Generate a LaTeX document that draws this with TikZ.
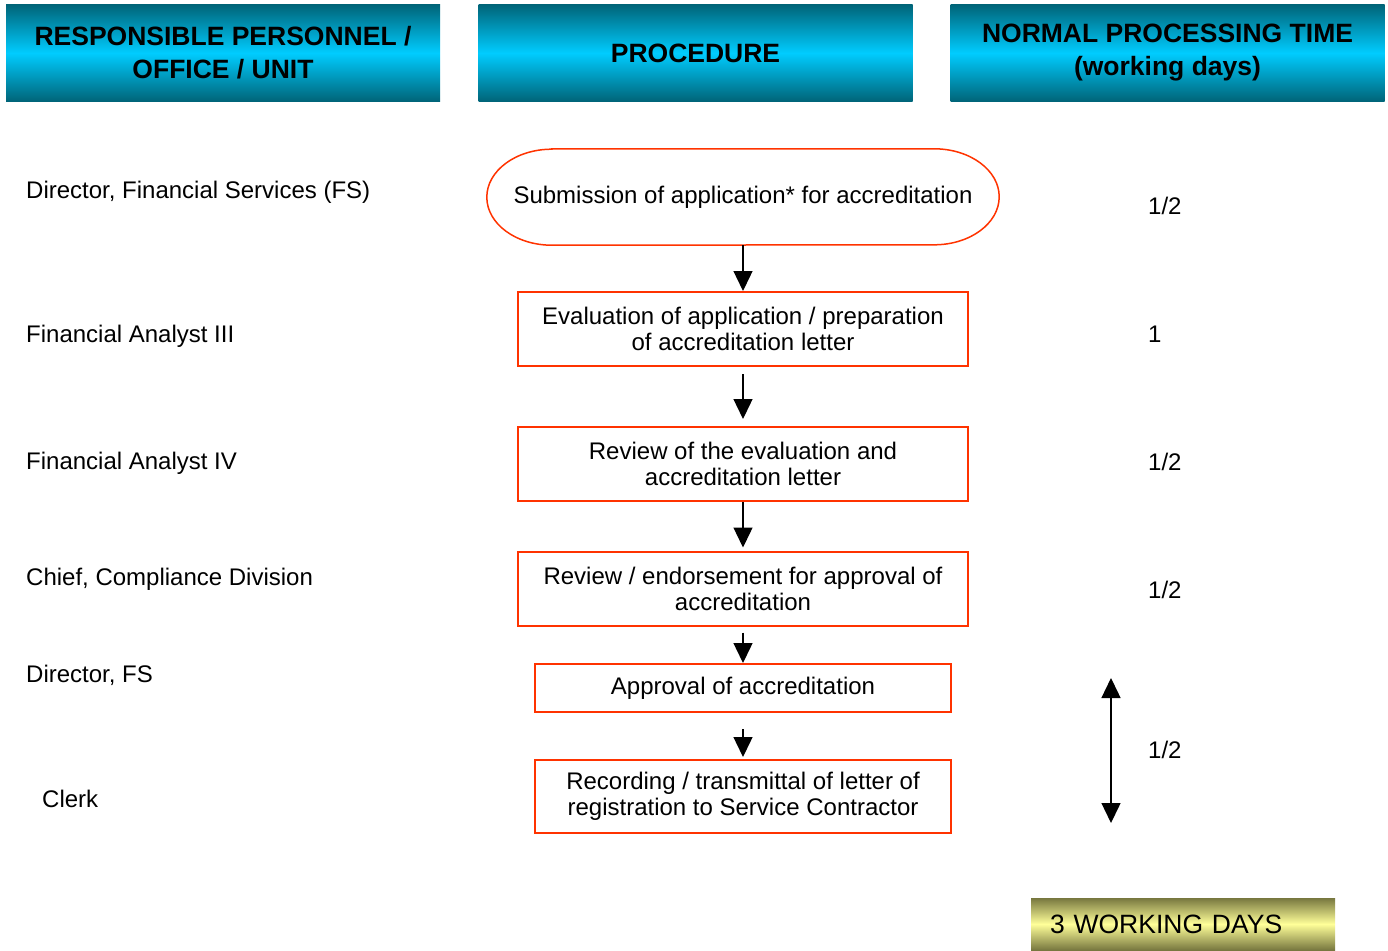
\documentclass[tikz,border=0pt]{standalone}
\usepackage{fontspec}
\setmainfont{Liberation Sans}
\usetikzlibrary{arrows.meta}
\definecolor{boxred}{HTML}{FF3300}
\definecolor{tealdark}{HTML}{006579}
\definecolor{cyanmid}{HTML}{00CCFF}
\definecolor{olivedark}{HTML}{77773F}
\definecolor{yellowmid}{HTML}{FFFF99}
\tikzset{
  hdr/.style={inner sep=0pt, minimum width=434pt, minimum height=96pt, align=center,
    top color=tealdark, bottom color=tealdark, middle color=cyanmid,
    font=\fontsize{26.5}{33}\selectfont\bfseries},
  body/.style={font=\fontsize{24}{26}\selectfont},
  lbl/.style={body, anchor=west, inner sep=0pt},
  stepbox/.style={body, draw=boxred, line width=2pt, align=center, inner sep=0pt,
    minimum width=450pt, minimum height=74pt},
  flow/.style={line width=1.4pt, -{Triangle[width=19pt,length=20pt]}},
}
\begin{document}
\begin{tikzpicture}[x=1pt,y=-1pt]
\useasboundingbox (0,0) rectangle (1388,950);
% headers
\node[hdr] (h1) at (223,53) {RESPONSIBLE PERSONNEL /\\OFFICE / UNIT};
\node[hdr] (h2) at (695.5,53) {PROCEDURE};
\node[hdr] (h3) at (1167.5,53) {NORMAL PROCESSING TIME\\(working days)};
% left labels
\node[lbl] (p1) at (26,192) {Director, Financial Services (FS)};
\node[lbl] (p2) at (26,336) {Financial Analyst III};
\node[lbl] (p3) at (26,463) {Financial Analyst IV};
\node[lbl] (p4) at (26,579) {Chief, Compliance Division};
\node[lbl] (p5) at (26,675) {Director, FS};
\node[lbl] (p6) at (42,799) {Clerk};
% start terminal
\node[body, inner sep=0pt, minimum width=512pt, minimum height=96pt] (s) at (743,197)
  {\raisebox{-2pt}{Submission of application* for accreditation}};
\draw[boxred, line width=1.5pt]
  ([xshift=65pt]s.north west) -- ([xshift=-65pt]s.north east)
  arc[start angle=90, end angle=-90, x radius=65pt, y radius=48pt]
  -- ([xshift=65pt]s.south west)
  arc[start angle=270, end angle=90, x radius=65pt, y radius=48pt] -- cycle;
% step boxes
\node[stepbox] (b1) at (743,329) {Evaluation of application / preparation\\of accreditation letter};
\node[stepbox] (b2) at (743,464) {Review of the evaluation and\\accreditation letter};
\node[stepbox] (b3) at (743,588.5) {Review / endorsement for approval of\\accreditation};
\node[stepbox, minimum width=416pt, minimum height=48pt] (b4) at (743,688) {\raisebox{-2pt}{Approval of accreditation}};
\node[stepbox, minimum width=416pt, minimum height=73pt] (b5) at (743,796.5) {Recording / transmittal of letter of\\registration to Service Contractor};
% connectors
\draw[flow] (s.south) -- (b1.north);
\draw[flow, shorten <=7pt, shorten >=7pt] (b1.south) -- (b2.north);
\draw[flow, shorten >=3pt] (b2.south) -- (b3.north);
\draw[flow, shorten <=6pt] (b3.south) -- (b4.north);
\draw[flow, shorten <=16pt, shorten >=2pt] (b4.south) -- (b5.north);
% processing times
\node[lbl] (t1) at (1148,206) {1/2};
\node[lbl] (t2) at (1148,334) {1};
\node[lbl] (t3) at (1148,462) {1/2};
\node[lbl] (t4) at (1148,590) {1/2};
\node[lbl] (t5) at (1148,750) {1/2};
\coordinate (d1) at (1111,678);
\coordinate (d2) at (1111,823);
\draw[line width=1.4pt, {Triangle[width=19pt,length=20pt]}-{Triangle[width=19pt,length=20pt]}] (d1) -- (d2);
% total
\node[inner sep=0pt, minimum width=304pt, minimum height=52pt, text width=266pt, align=left,
  top color=olivedark, bottom color=olivedark, middle color=yellowmid,
  font=\fontsize{26.5}{30}\selectfont] (tot) at (1183,924) {3 WORKING DAYS};
\end{tikzpicture}
\end{document}
